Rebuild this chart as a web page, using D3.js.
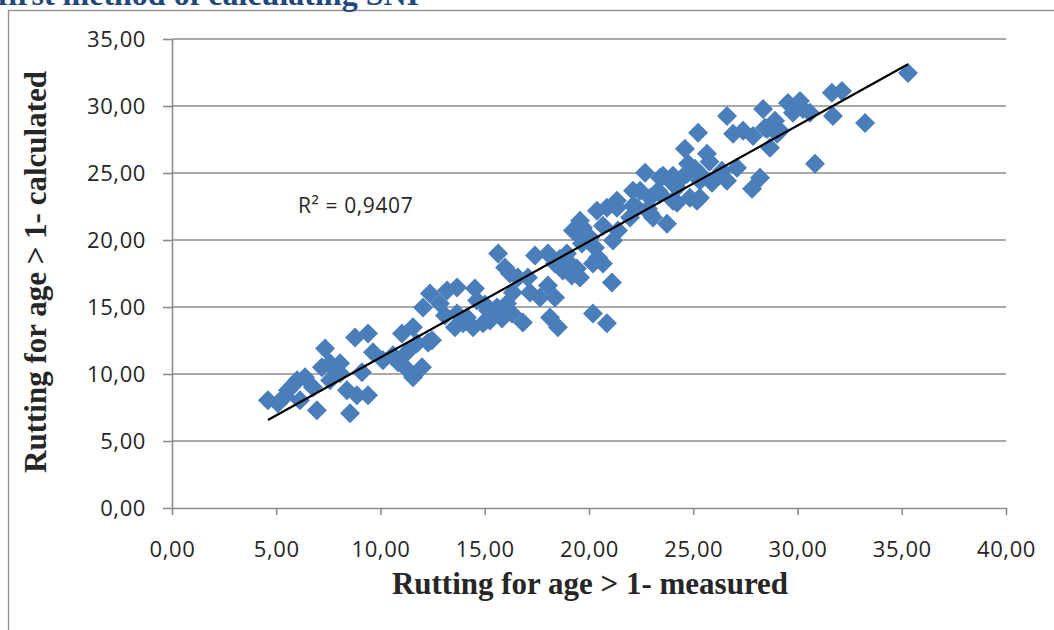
<!DOCTYPE html>
<html>
<head>
<meta charset="utf-8">
<script src="https://cdn.jsdelivr.net/npm/d3@7"></script>
<style>
    html, body { margin: 0; padding: 0; background: #fff; }
    svg { display: block; }
</style>
</head>
<body>
<div id="chart"></div>
<script>
// values
const measured = [
    4.60, 5.08, 5.56, 6.00, 6.14, 6.38, 6.76, 6.95, 7.19, 7.34,
    7.58, 7.58, 8.06, 8.06, 8.39, 8.54, 8.87, 8.78, 9.40, 9.40,
    9.64, 10.12, 10.60, 11.03, 11.27, 11.56, 11.75, 11.56, 11.99, 12.28,
    12.04, 12.37, 12.85, 12.47, 5.80, 5.42, 7.82, 9.11, 10.84, 11.32,
    13.19, 13.67, 13.57, 13.67, 13.96, 14.53, 14.15, 14.44, 14.63, 14.92,
    15.16, 15.25, 15.59, 15.83, 16.07, 16.31, 16.83, 15.64, 15.97, 16.21,
    16.59, 17.07, 17.41, 17.65, 16.35, 15.01, 18.03, 18.37, 18.61, 18.75,
    19.09, 19.18, 19.42, 18.37, 18.13, 18.51, 19.42, 19.71, 19.66, 20.05,
    20.29, 20.43, 20.67, 20.19, 20.38, 20.86, 21.34, 21.10, 21.39, 21.15,
    22.11, 21.97, 20.19, 20.86, 19.57, 19.23, 20.67, 18.94, 19.57, 21.34,
    22.30, 22.11, 22.69, 23.31, 23.55, 23.98, 24.22, 24.46, 24.70, 24.60,
    25.23, 25.66, 24.75, 25.08, 25.32, 25.90, 26.38, 26.62, 27.10, 28.20,
    27.82, 22.83, 23.07, 23.74, 24.22, 24.84, 25.32, 22.93, 23.41, 24.03,
    25.18, 22.93, 25.95, 23.41, 24.03, 25.32, 26.91, 27.39, 27.87, 28.54,
    28.68, 29.16, 26.62, 28.35, 28.92, 28.44, 29.02, 22.45, 25.78, 29.54,
    30.12, 30.26, 30.60, 29.78, 31.65, 32.13, 31.70, 33.24, 30.84, 35.30,
    13.09, 18.03, 17.17
];
const calculated = [
    8.04, 7.82, 8.79, 9.53, 8.04, 9.75, 9.01, 7.30, 10.50, 11.91,
    10.80, 9.53, 10.80, 10.05, 8.79, 7.07, 8.41, 12.73, 13.03, 8.41,
    11.62, 11.02, 11.39, 13.03, 11.62, 13.48, 12.29, 9.75, 10.50, 12.36,
    14.97, 16.01, 15.26, 12.51, 9.16, 8.34, 10.28, 10.13, 10.87, 10.28,
    16.23, 16.46, 13.48, 14.52, 13.78, 16.38, 14.22, 13.48, 15.49, 13.78,
    14.74, 14.00, 14.97, 14.15, 15.26, 14.52, 13.85, 18.99, 17.94, 17.50,
    17.20, 17.20, 18.84, 15.71, 16.08, 15.19, 18.99, 18.24, 18.61, 17.72,
    18.24, 17.35, 17.87, 15.71, 14.22, 13.48, 20.48, 20.92, 19.73, 20.18,
    19.43, 18.69, 18.24, 18.24, 22.19, 22.41, 22.41, 16.83, 20.70, 19.96,
    22.56, 21.67, 14.52, 13.78, 21.44, 20.70, 21.07, 18.99, 17.20, 22.93,
    22.41, 23.68, 25.02, 23.68, 24.80, 24.27, 23.90, 24.65, 24.94, 26.81,
    28.00, 26.43, 25.69, 25.32, 24.94, 24.27, 25.17, 24.42, 25.39, 24.65,
    23.83, 22.34, 21.67, 21.22, 22.78, 23.16, 23.16, 23.16, 23.45, 22.93,
    22.93, 21.97, 24.42, 24.65, 24.80, 24.42, 27.92, 28.15, 27.77, 28.29,
    26.88, 28.15, 29.26, 29.78, 28.89, 28.37, 27.92, 23.68, 25.84, 30.23,
    30.38, 29.78, 29.49, 29.49, 30.98, 31.12, 29.26, 28.74, 25.69, 32.46,
    14.37, 16.60, 16.08
];
const xTicks = [0, 5, 10, 15, 20, 25, 30, 35, 40];
const yTicks = [0, 5, 10, 15, 20, 25, 30, 35];
const rSquaredLabel = 'R\u00b2 = 0,9407';
const titleText = 'first method of calculating SNI';
const xTitle = 'Rutting for age > 1- measured';
const yTitle = 'Rutting for age > 1- calculated';

const width = 1054;
const height = 630;
const margin = { top: 39, right: 48, bottom: 122, left: 172 };
const innerW = width - margin.left - margin.right;
const innerH = height - margin.top - margin.bottom;

const gridColor = '#8c8c8c';
const markerColor = '#4a7ebb';
const textColor = '#262626';
const fmt = d => d3.format('.2f')(d).replace('.', ',');

const svg = d3.select('#chart').append('svg')
    .attr('width', width)
    .attr('height', height);

// outer frame (runs off the right and bottom of the picture)
svg.append('rect')
    .attr('x', 8.5)
    .attr('y', 10.5)
    .attr('width', 1200)
    .attr('height', 800)
    .attr('fill', 'none')
    .attr('stroke', '#8c8c8c')
    .attr('stroke-width', 1.3);

// heading above the frame, cut by the top edge as in the source
svg.append('text')
    .attr('x', 419)
    .attr('y', 5)
    .attr('text-anchor', 'end')
    .style('font-family', '"Liberation Serif", "DejaVu Serif", serif')
    .style('font-weight', 'bold')
    .style('font-size', '32px')
    .attr('fill', '#1f497d')
    .text(titleText);

const g = svg.append('g')
    .attr('transform', `translate(${margin.left},${margin.top})`);

const x = d3.scaleLinear().domain([0, 40]).range([0, innerW]);
const y = d3.scaleLinear().domain([0, 35]).range([innerH, 0]);

// horizontal gridlines
g.append('g')
    .attr('class', 'grid')
    .selectAll('line')
    .data(yTicks.filter(d => d > 0))
    .enter()
    .append('line')
    .attr('x1', 0)
    .attr('x2', innerW)
    .attr('y1', d => y(d))
    .attr('y2', d => y(d))
    .attr('stroke', gridColor)
    .attr('stroke-width', 1.6);

// axes
const xAxis = g.append('g')
    .attr('transform', `translate(0,${innerH})`)
    .call(d3.axisBottom(x)
        .tickValues(xTicks)
        .tickFormat(fmt)
        .tickSize(7)
        .tickSizeOuter(0)
        .tickPadding(26));

const yAxis = g.append('g')
    .call(d3.axisLeft(y)
        .tickValues(yTicks)
        .tickFormat(fmt)
        .tickSize(9)
        .tickSizeOuter(0)
        .tickPadding(17));

[xAxis, yAxis].forEach(ax => {
    ax.select('.domain').attr('stroke', gridColor).attr('stroke-width', 1.6);
    ax.selectAll('.tick line').attr('stroke', gridColor).attr('stroke-width', 1.6);
    ax.selectAll('.tick text')
        .attr('fill', textColor)
        .style('font-family', '"Open Sans", "Noto Sans", sans-serif')
        .style('font-size', '22px')
        .style('letter-spacing', '0.6px');
});

// points
const points = measured.map((m, i) => ({ m: m, c: calculated[i] }));

g.append('g')
    .selectAll('path.point')
    .data(points)
    .enter()
    .append('path')
    .attr('class', 'point')
    .attr('d', d3.symbol().type(d3.symbolSquare).size(200))
    .attr('transform', d => `translate(${x(d.m)},${y(d.c)}) rotate(45)`)
    .attr('fill', markerColor);

// linear trendline (least squares over the points)
const mx = d3.mean(measured);
const my = d3.mean(calculated);
const slope = d3.sum(points, d => (d.m - mx) * (d.c - my)) / d3.sum(points, d => (d.m - mx) ** 2);
const intercept = my - slope * mx;
const xExtent = d3.extent(measured);

g.append('line')
    .attr('x1', x(xExtent[0]))
    .attr('y1', y(slope * xExtent[0] + intercept))
    .attr('x2', x(xExtent[1]))
    .attr('y2', y(slope * xExtent[1] + intercept))
    .attr('stroke', '#000')
    .attr('stroke-width', 2.2);

svg.append('text')
    .attr('x', 298)
    .attr('y', 213)
    .attr('fill', textColor)
    .style('font-family', '"Open Sans", "Noto Sans", sans-serif')
    .style('font-size', '21px')
    .style('letter-spacing', '0.6px')
    .text(rSquaredLabel);

// axis titles
svg.append('text')
    .attr('x', 590)
    .attr('y', 594)
    .attr('text-anchor', 'middle')
    .attr('fill', textColor)
    .style('font-family', '"Liberation Serif", "DejaVu Serif", serif')
    .style('font-weight', 'bold')
    .style('font-size', '31px')
    .text(xTitle);

svg.append('text')
    .attr('transform', 'translate(46,272) rotate(-90)')
    .attr('text-anchor', 'middle')
    .attr('fill', textColor)
    .style('font-family', '"Liberation Serif", "DejaVu Serif", serif')
    .style('font-weight', 'bold')
    .style('font-size', '31px')
    .text(yTitle);
</script>
</body>
</html>
